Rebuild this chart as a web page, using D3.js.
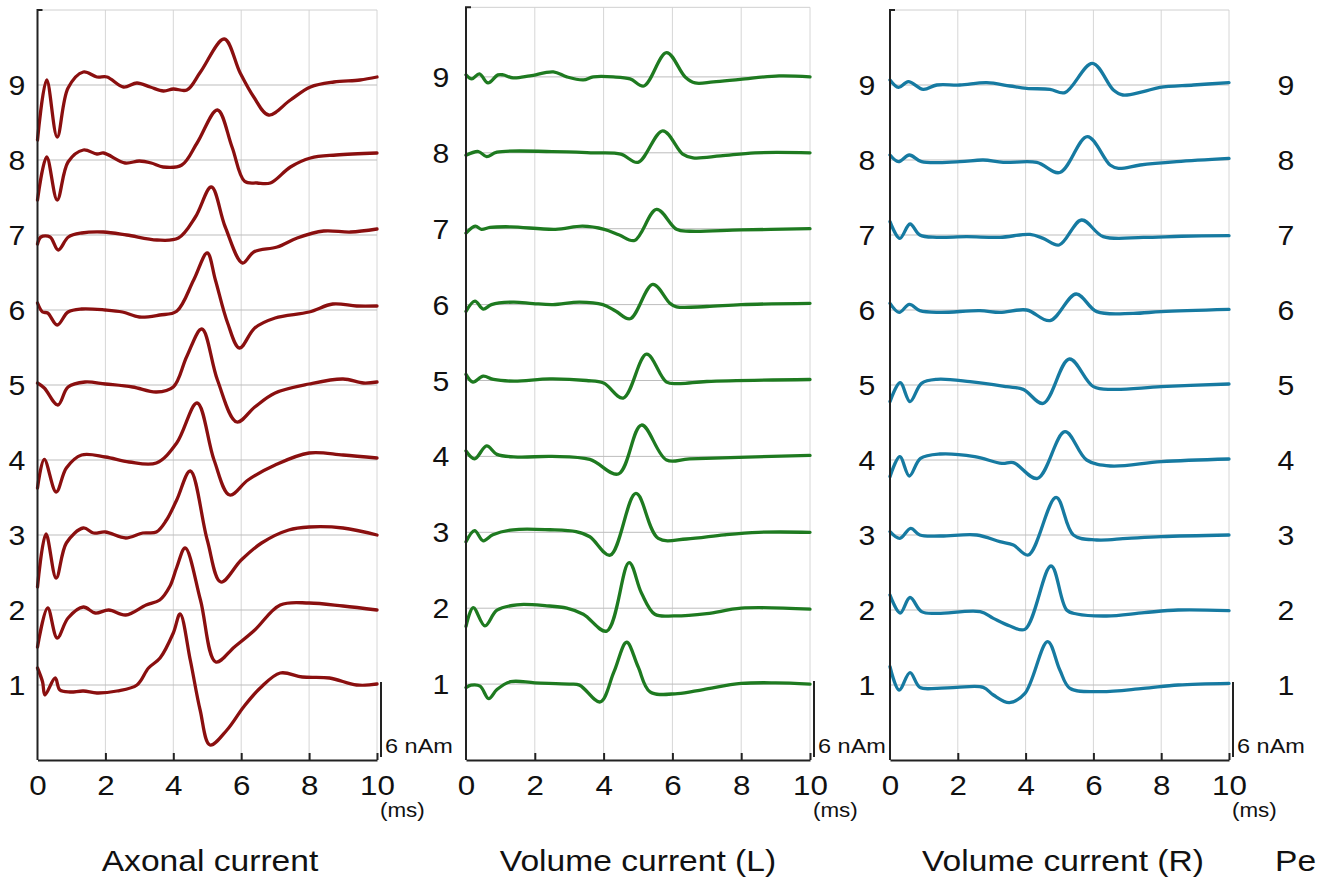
<!DOCTYPE html>
<html>
<head>
<meta charset="utf-8">
<script src="https://cdn.jsdelivr.net/npm/d3@7"></script>
<style>
  html, body { margin: 0; padding: 0; background: #fff; }
  svg { display: block; font-family: "Liberation Sans", Arial, Helvetica, sans-serif; }
</style>
</head>
<body>
<div id="chart"></div>
<script>
// traces: one list per channel (1..9), pairs of [time ms, deviation nAm] from the channel baseline
// channels are stacked 6 nAm apart (the scale bar)
const rows = [1, 2, 3, 4, 5, 6, 7, 8, 9];
const xTicks = [0, 2, 4, 6, 8, 10];
const rowStep = 6; // nAm between baselines

const axonal = [
  [[0,1.36],[0.15,0.24],[0.22,-0.8],[0.52,0.56],[0.66,-0.4],[0.96,-0.56],[1.35,-0.48],[1.75,-0.64],[2.34,-0.48],[2.93,0],[3.27,1.36],[3.61,2.16],[4.0,4.16],[4.2,5.68],[4.5,2.0],[4.79,-2.0],[5.08,-4.8],[5.58,-3.6],[6.07,-1.76],[6.56,-0.24],[7.15,0.96],[7.8,0.64],[8.6,0.56],[9.4,0],[10,0.08]],
  [[0,-2.96],[0.3,0.16],[0.58,-2.24],[0.9,-0.64],[1.35,0.24],[1.7,-0.24],[2.1,0],[2.6,-0.4],[3.2,0.4],[3.6,0.8],[3.9,1.9],[4.1,3.4],[4.35,4.96],[4.8,0.8],[5.25,-4.16],[5.8,-2.96],[6.4,-1.6],[7.15,0.4],[8.0,0.56],[9.0,0.32],[10,0]],
  [[0,-4.16],[0.25,0.08],[0.55,-3.44],[0.85,-0.64],[1.35,0.56],[1.65,0.16],[2.0,0.24],[2.6,-0.24],[3.1,0.16],[3.5,0.24],[3.8,1.2],[4.1,2.8],[4.5,5.12],[5.0,-0.4],[5.4,-3.76],[6.0,-2.0],[6.6,-0.64],[7.4,0.4],[8.0,0.64],[9.0,0.56],[10,0]],
  [[0,-2.24],[0.2,0.05],[0.55,-2.56],[0.85,-0.64],[1.3,0.4],[2.0,0.24],[2.7,-0.16],[3.5,-0.24],[4.1,1.36],[4.7,4.56],[5.2,0],[5.66,-2.8],[6.2,-1.6],[7.0,-0.4],[8.0,0.56],[9.0,0.4],[10,0.16]],
  [[0,0.16],[0.2,-0.24],[0.6,-1.6],[0.9,-0.16],[1.4,0.24],[2.0,0.08],[2.8,-0.16],[3.5,-0.56],[4.0,-0.16],[4.4,2.3],[4.84,4.48],[5.3,0.4],[5.87,-2.96],[6.4,-1.76],[7.0,-0.64],[8.0,0.08],[9.0,0.48],[9.6,0.16],[10,0.24]],
  [[0,0.56],[0.15,-0.16],[0.3,-0.24],[0.58,-1.2],[0.9,-0.16],[1.3,0.08],[2.0,0],[2.5,-0.16],[3.0,-0.56],[3.6,-0.4],[4.1,-0.1],[4.6,2.4],[5.0,4.56],[5.24,2.4],[5.6,-1.04],[5.95,-3.04],[6.4,-1.44],[7.0,-0.64],[8.0,-0.16],[8.7,0.48],[9.4,0.32],[10,0.32]],
  [[0,-0.72],[0.1,-0.16],[0.37,-0.16],[0.61,-1.2],[0.91,-0.16],[1.3,0.16],[1.94,0.24],[2.63,0],[3.52,-0.4],[4.15,-0.24],[4.65,1.44],[5.12,3.84],[5.53,0.64],[6.04,-2.24],[6.37,-1.36],[7.06,-0.96],[7.65,-0.24],[8.43,0.32],[9.22,0.24],[10,0.48]],
  [[0,-3.2],[0.27,0.24],[0.58,-3.2],[0.9,-0.16],[1.35,0.8],[1.75,0.48],[1.95,0.56],[2.58,-0.24],[3.0,-0.08],[3.35,-0.24],[3.7,-0.56],[4.25,-0.4],[4.7,1.36],[5.3,4.0],[5.73,1.04],[6.1,-1.7],[6.47,-1.84],[6.86,-1.84],[7.45,-0.56],[8.04,0.16],[8.8,0.4],[10,0.56]],
  [[0,-4.4],[0.27,0.4],[0.58,-4.16],[0.9,-0.24],[1.35,1.04],[1.75,0.64],[2.05,0.64],[2.53,-0.16],[2.93,0.16],[3.32,-0.16],[3.71,-0.48],[4.0,-0.32],[4.4,-0.4],[4.8,1.04],[5.5,3.68],[5.97,0.96],[6.37,-0.96],[6.81,-2.4],[7.45,-1.2],[8.04,-0.16],[8.73,0.24],[9.5,0.4],[10,0.64]]
];

const volumeL = [
  [[0,-0.27],[0.15,-0.08],[0.41,-0.16],[0.66,-1.15],[0.9,-0.43],[1.3,0.19],[2.0,0.1],[3.0,0],[3.3,-0.08],[3.9,-1.41],[4.3,0.96],[4.67,3.31],[5.0,1.39],[5.35,-0.61],[6.15,-0.75],[6.9,-0.43],[8.0,0.05],[9.0,0.1],[10,0]],
  [[0,-1.44],[0.21,0.05],[0.55,-1.4],[0.9,-0.16],[1.48,0.27],[2.35,0.19],[2.93,0],[3.41,-0.48],[4.09,-1.81],[4.74,3.6],[5.1,1.2],[5.49,-0.48],[6.05,-0.61],[7.0,-0.43],[8.0,0],[10,-0.08]],
  [[0,-0.75],[0.25,0.13],[0.5,-0.67],[0.78,-0.2],[1.37,0.2],[2.44,0.2],[3.2,0.05],[3.6,-0.35],[4.19,-1.81],[4.94,3.07],[5.59,-0.48],[6.41,-0.53],[7.5,-0.2],[8.5,0],[10,0]],
  [[0,0.43],[0.25,-0.19],[0.6,0.83],[0.9,0.16],[1.5,-0.05],[2.5,0],[3.6,-0.24],[4.43,-1.39],[5.1,2.48],[5.83,-0.29],[6.5,-0.19],[10,0.08]],
  [[0,0.48],[0.2,-0.13],[0.5,0.35],[0.8,0.08],[1.4,-0.05],[2.44,0.13],[3.5,0],[4.0,-0.2],[4.57,-1.39],[5.25,2.08],[5.83,-0.13],[6.22,-0.24],[7.0,-0.08],[10,0.08]],
  [[0,-0.53],[0.26,0.27],[0.5,-0.35],[0.74,0],[1.37,0.2],[1.95,0.08],[2.53,0],[3.3,0.2],[3.98,0],[4.36,-0.53],[4.77,-1.12],[5.43,1.6],[5.93,0.1],[6.12,-0.18],[7.0,-0.15],[8.0,0],[10,0.1]],
  [[0,-0.35],[0.27,0.2],[0.45,-0.05],[0.7,0.1],[1.3,0.15],[2.6,-0.05],[3.39,0.2],[4.02,-0.05],[4.46,-0.5],[4.9,-0.93],[5.54,1.52],[6.12,-0.05],[6.5,-0.2],[8.0,-0.1],[10,0]],
  [[0,-0.2],[0.36,0.1],[0.6,-0.3],[0.9,0.05],[2.5,0.1],[3.7,0],[4.5,-0.1],[5.0,-0.75],[5.72,1.74],[6.3,-0.1],[6.6,-0.4],[7.4,-0.25],[8.4,0],[10,0]],
  [[0,0.16],[0.17,-0.16],[0.39,0.24],[0.64,-0.48],[0.93,0.16],[1.08,0.16],[1.37,-0.08],[1.86,0.08],[2.54,0.4],[2.93,0],[3.41,-0.24],[3.7,0],[4.28,0],[4.77,-0.16],[5.17,-0.72],[5.83,1.92],[6.37,0],[6.66,-0.48],[7.19,-0.4],[7.97,-0.2],[9.1,0.08],[10,0]]
];

const volumeR = [
  [[0,1.47],[0.27,-0.4],[0.59,0.99],[0.88,-0.19],[1.38,-0.27],[1.97,-0.19],[2.75,-0.19],[3.05,-0.8],[3.52,-1.41],[3.98,-0.67],[4.65,3.47],[5.01,1.2],[5.31,-0.27],[6.19,-0.53],[7.47,-0.27],[8.5,0],[10,0.13]],
  [[0,1.2],[0.3,-0.24],[0.59,1.0],[0.93,-0.13],[1.38,-0.27],[2.66,-0.13],[3.05,-0.67],[3.54,-1.28],[3.98,-1.55],[4.75,3.52],[5.21,0],[5.51,-0.32],[6.39,-0.48],[7.5,-0.21],[8.5,0],[10,-0.05]],
  [[0,0.27],[0.29,-0.27],[0.61,0.53],[0.88,0],[1.5,-0.08],[2.56,0],[3.24,-0.53],[3.64,-0.8],[4.08,-1.6],[4.9,3.01],[5.41,0],[6.1,-0.4],[7.0,-0.27],[8.0,-0.13],[10,0]],
  [[0,-1.33],[0.29,0.27],[0.57,-1.28],[0.9,0.13],[1.47,0.48],[2.5,0.27],[3.3,-0.27],[3.64,-0.21],[4.35,-1.47],[5.16,2.27],[5.8,0],[6.5,-0.48],[8,-0.13],[10,0.08]],
  [[0,-1.33],[0.3,0.19],[0.59,-1.33],[0.93,0.13],[1.38,0.45],[2.36,0.27],[3.44,-0.13],[3.93,-0.35],[4.52,-1.47],[5.29,2.08],[6.0,-0.13],[6.59,-0.35],[8,-0.13],[10,0.08]],
  [[0,0.53],[0.27,-0.19],[0.57,0.45],[0.88,-0.05],[1.47,-0.19],[2.65,-0.05],[3.24,-0.19],[4.03,0],[4.72,-0.85],[5.49,1.28],[6.1,-0.13],[7.18,-0.27],[8,-0.13],[10,0.05]],
  [[0,1.07],[0.29,-0.27],[0.59,0.88],[0.88,0],[1.38,-0.19],[2.26,-0.13],[3.24,-0.19],[4.13,0.05],[4.52,-0.27],[4.99,-0.8],[5.65,1.2],[6.29,-0.13],[7.47,-0.19],[8.6,-0.1],[10,-0.05]],
  [[0,0.4],[0.25,-0.13],[0.57,0.4],[0.93,-0.13],[2.06,-0.13],[2.75,0],[3.34,-0.19],[4.33,-0.19],[5.01,-1.0],[5.82,1.87],[6.49,-0.4],[6.74,-0.67],[7.38,-0.4],[8.46,-0.13],[10,0.13]],
  [[0,0.4],[0.25,-0.19],[0.54,0.27],[0.98,-0.35],[1.38,0],[2.06,0],[2.85,0.19],[3.54,-0.08],[4.03,-0.27],[4.72,-0.35],[5.16,-0.61],[5.97,1.73],[6.59,-0.4],[6.87,-0.8],[7.47,-0.53],[7.96,-0.19],[8.95,0],[10,0.19]]
];

const titles = ["Axonal current", "Volume current (L)", "Volume current (R)"];
const colors = ["#8a0f0f", "#1e7a20", "#167aa1"];

const W = 1317, H = 877;
const panels = [
  {traces: axonal, x: [37.5, 377], y: [760, 10], top: 60, labelX: 17, titleX: 210},
  {traces: volumeL, x: [466, 810], y: [760, 1], top: 59.5, labelX: 441, titleX: 638},
  {traces: volumeR, x: [890, 1229], y: [760, 10], top: 60, labelX: 867, titleX: 1063}
];

const svg = d3.select("#chart").append("svg")
  .attr("width", W).attr("height", H);

function addText(g, str, x, y, size, anchor) {
  return g.append("text")
    .attr("transform", `translate(${x},${y}) scale(1.12,1)`)
    .attr("text-anchor", anchor || "middle")
    .attr("font-size", size)
    .attr("fill", "#111")
    .text(str);
}

panels.forEach((p, pi) => {
  const x = d3.scaleLinear().domain([0, 10]).range(p.x);
  const y = d3.scaleLinear().domain([0, 60]).range(p.y);
  const g = svg.append("g");

  // grid
  g.selectAll(".vg").data(xTicks.slice(1)).join("line")
    .attr("x1", d => x(d)).attr("x2", d => x(d))
    .attr("y1", y(p.top)).attr("y2", y(0))
    .attr("stroke", "#d6d6d6").attr("stroke-width", 1);
  g.selectAll(".hg").data(rows).join("line")
    .attr("x1", x(0)).attr("x2", x(10))
    .attr("y1", d => y(d * rowStep)).attr("y2", d => y(d * rowStep))
    .attr("stroke", "#bdbdbd").attr("stroke-width", 1);
  g.append("line")
    .attr("x1", x(0)).attr("x2", x(10))
    .attr("y1", y(p.top)).attr("y2", y(p.top))
    .attr("stroke", "#d0d0d0");

  // traces
  const line = d3.line().curve(d3.curveCatmullRom.alpha(0.5));
  p.traces.forEach((tr, i) => {
    const base = rows[i] * rowStep;
    g.append("path")
      .attr("d", line.x(d => x(d[0])).y(d => y(base + d[1]))(tr))
      .attr("fill", "none")
      .attr("stroke", colors[pi])
      .attr("stroke-width", 3.3)
      .attr("stroke-linejoin", "round")
      .attr("stroke-linecap", "round");
  });

  // left axis
  g.append("path")
    .attr("d", `M${x(0) + 5},${y(p.top)}H${x(0)}V${y(0)}`)
    .attr("fill", "none").attr("stroke", "#222").attr("stroke-width", 2);

  // bottom axis
  const ax = g.append("g")
    .attr("transform", `translate(0,${y(0)})`)
    .call(d3.axisBottom(x).tickValues(xTicks).tickSize(-7).tickSizeOuter(0).tickPadding(15));
  ax.select(".domain").attr("stroke", "#222").attr("stroke-width", 2);
  ax.selectAll(".tick line").attr("stroke", "#222").attr("stroke-width", 2);
  ax.selectAll(".tick text")
    .attr("font-size", 28)
    .attr("font-family", "'Liberation Sans', Arial, sans-serif")
    .attr("fill", "#111")
    .attr("transform", "scale(1.12,1)");
  ax.selectAll(".tick").filter(d => d === 0).select("line").remove();

  // row labels
  rows.forEach(r => addText(g, String(r), p.labelX, y(r * rowStep) + 10, 27));

  // scale bar (6 nAm)
  g.append("line")
    .attr("x1", x(10) + 4).attr("x2", x(10) + 4)
    .attr("y1", y(0) - 3).attr("y2", y(rowStep) - 3)
    .attr("stroke", "#222").attr("stroke-width", 2);
  addText(g, "6 nAm", x(10) + 8, 753, 21, "start");
  addText(g, "(ms)", x(10) + 3, 817, 20, "start");

  addText(g, titles[pi], p.titleX, 871, 30);

  // the next (cut-off) panel reuses the right panel's channel positions
  if (pi === panels.length - 1) {
    rows.forEach(r => addText(g, String(r), 1286, y(r * rowStep) + 10, 27));
    addText(g, "Pe", 1275, 871, 30, "start");
  }
});
</script>
</body>
</html>
